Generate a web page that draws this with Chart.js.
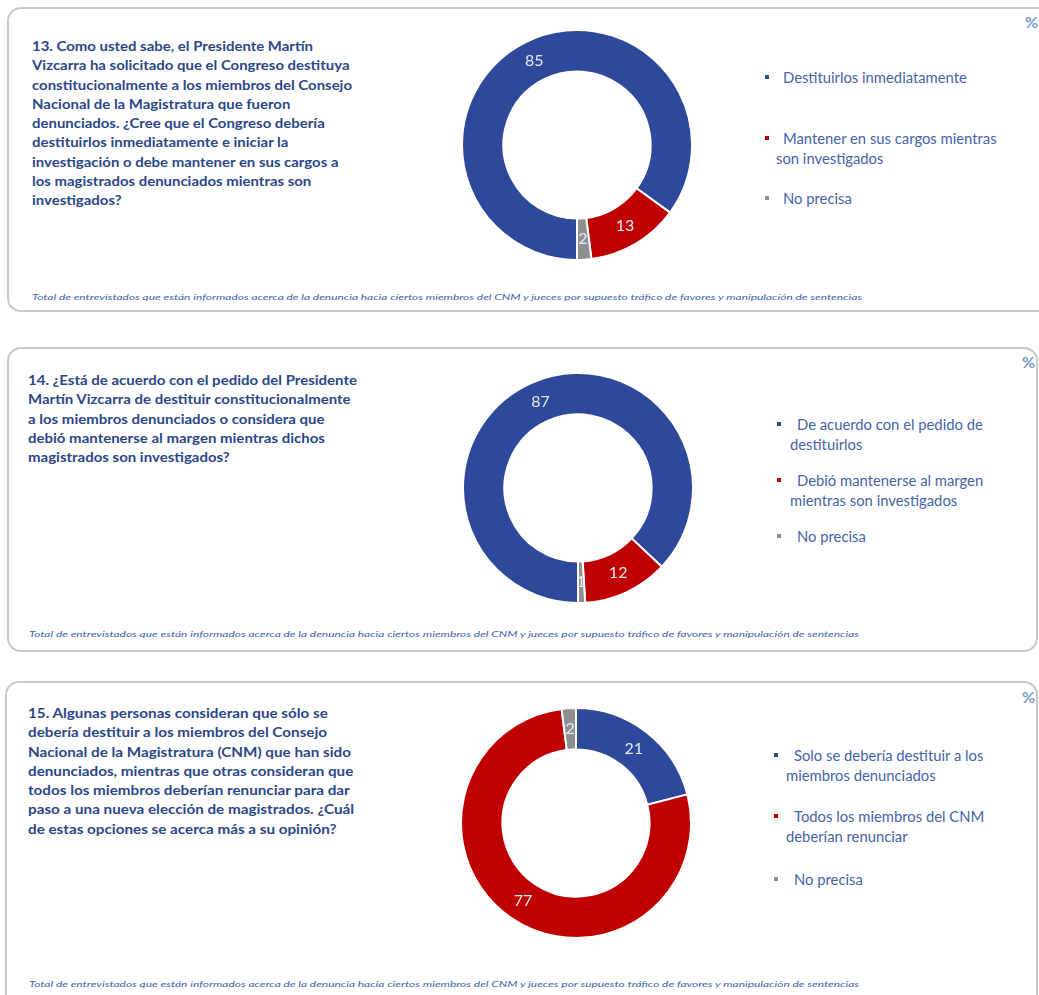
<!DOCTYPE html>
<html><head><meta charset="utf-8">
<script src="https://cdn.jsdelivr.net/npm/chart.js@4.4.0/dist/chart.umd.min.js"></script>
<style>
body{margin:0;width:1039px;height:995px;overflow:hidden;background:#fff;font-family:Lato,"Open Sans",sans-serif;position:relative}
.panel{position:absolute;border:2px solid #c9c9c9;border-radius:14px;box-sizing:border-box}
.q{position:absolute;color:#2b4789;font-weight:bold;font-size:14px;line-height:19.3px;white-space:nowrap;transform-origin:0 0}
.foot{position:absolute;color:#4262aa;font-style:italic;font-size:8.5px;white-space:nowrap;transform-origin:0 50%}
.pct{position:absolute;color:#7b98cf;font-weight:bold;font-size:16px}
.leg{position:absolute;color:#4563aa;font-size:14.8px;line-height:20px;white-space:nowrap}
.box{position:absolute;width:4px;height:4px}
canvas{position:absolute}
</style></head><body>
<script>
// ---- data ----
const seriesColors = ['#2E489C', '#C00000', '#8E8F91'];
const q13Categories = ['Destituirlos inmediatamente', 'Mantener en sus cargos mientras son investigados', 'No precisa'];
const q13Values = [85, 13, 2];
const q14Categories = ['De acuerdo con el pedido de destituirlos', 'Debió mantenerse al margen mientras son investigados', 'No precisa'];
const q14Values = [87, 12, 1];
const q15Categories = ['Solo se debería destituir a los miembros denunciados', 'Todos los miembros del CNM deberían renunciar', 'No precisa'];
const q15Values = [21, 77, 2];
const q13Question = ['13. Como usted sabe, el Presidente Martín','Vizcarra ha solicitado que el Congreso destituya','constitucionalmente a los miembros del Consejo','Nacional de la Magistratura que fueron','denunciados. ¿Cree que el Congreso debería','destituirlos inmediatamente e iniciar la','investigación o debe mantener en sus cargos a','los magistrados denunciados mientras son','investigados?'];
const q14Question = ['14. ¿Está de acuerdo con el pedido del Presidente','Martín Vizcarra de destituir constitucionalmente','a los miembros denunciados o considera que','debió mantenerse al margen mientras dichos','magistrados son investigados?'];
const q15Question = ['15. Algunas personas consideran que sólo se','debería destituir a los miembros del Consejo','Nacional de la Magistratura (CNM) que han sido','denunciados, mientras que otras consideran que','todos los miembros deberían renunciar para dar','paso a una nueva elección de magistrados. ¿Cuál','de estas opciones se acerca más a su opinión?'];
const q13LegendLines = [['Destituirlos inmediatamente'], ['Mantener en sus cargos mientras','son investigados'], ['No precisa']];
const q14LegendLines = [['De acuerdo con el pedido de','destituirlos'], ['Debió mantenerse al margen','mientras son investigados'], ['No precisa']];
const q15LegendLines = [['Solo se debería destituir a los','miembros denunciados'], ['Todos los miembros del CNM','deberían renunciar'], ['No precisa']];
const footnote = 'Total de entrevistados que están informados acerca de la denuncia hacia ciertos miembros del CNM y jueces por supuesto tráfico de favores y manipulación de sentencias';

// ---- layout ----
const panels = [
  {box:[7,7,1045,305], q:q13Question, qxy:[32,36], qw:320, foot:[32,298], pct:[1025,12], cx:577, cy:145, rot:180,
   vals:q13Values, cats:q13Categories, leg:q13LegendLines, legPos:[[767,783,776,77],[767,783,776,138],[767,783,776,198]]},
  {box:[7,347,1031,305], q:q14Question, qxy:[28,370], qw:329, foot:[29,635], pct:[1022,352], cx:578, cy:488, rot:180,
   vals:q14Values, cats:q14Categories, leg:q14LegendLines, legPos:[[779,797,790,424],[779,797,790,480],[779,797,790,536]]},
  {box:[5,681,1033,330], q:q15Question, qxy:[28,703], qw:326, foot:[29,985], pct:[1022,687], cx:576, cy:823, rot:0,
   vals:q15Values, cats:q15Categories, leg:q15LegendLines, legPos:[[776,794,786,755],[776,794,786,816],[776,794,786,879]]}
];

const labelPlugin = {
  id:'sliceLabels',
  afterDatasetsDraw(chart){
    const ctx = chart.ctx, meta = chart.getDatasetMeta(0), ds = chart.data.datasets[0];
    ctx.save();
    ctx.font = '16px Lato, "Open Sans", sans-serif';
    ctx.fillStyle = '#e4ecf9';
    ctx.textAlign = 'center'; ctx.textBaseline = 'middle';
    meta.data.forEach((arc,i)=>{ const p = arc.tooltipPosition(); ctx.fillText(String(ds.data[i]), p.x, p.y); });
    ctx.restore();
  }
};

function el(tag, cls, css, html){ const e=document.createElement(tag); if(cls) e.className=cls; Object.assign(e.style,css||{}); if(html!==undefined) e.innerHTML=html; document.body.appendChild(e); return e; }

const S = 232;
panels.forEach(p=>{
  el('div','panel',{left:p.box[0]+'px',top:p.box[1]+'px',width:p.box[2]+'px',height:p.box[3]+'px'});
  const q = el('div','q',{left:p.qxy[0]+'px',top:p.qxy[1]+'px'}, p.q.join('<br>'));
  q.style.transform = 'scaleX(' + (p.qw / q.getBoundingClientRect().width) + ')';
  const f = el('div','foot',{left:p.foot[0]+'px',top:(p.foot[1]-6)+'px'}, footnote);
  const w = f.getBoundingClientRect().width; f.style.transform = 'scaleX(' + (830/w) + ')';
  el('div','pct',{left:p.pct[0]+'px',top:p.pct[1]+'px'}, '%');
  p.leg.forEach((lines,i)=>{
    const [bx,tx,tx2,ty] = p.legPos[i];
    el('div','box',{left:(bx-2)+'px',top:(ty-2)+'px',background:seriesColors[i]});
    el('div','leg',{left:tx+'px',top:(ty-10)+'px'}, lines[0]);
    if(lines[1]) el('div','leg',{left:tx2+'px',top:(ty+10)+'px'}, lines[1]);
  });
  const c = el('canvas',null,{left:(p.cx-S/2)+'px',top:(p.cy-S/2)+'px'});
  c.width = S; c.height = S;
  new Chart(c, {
    type:'doughnut',
    data:{labels:p.cats, datasets:[{data:p.vals, backgroundColor:seriesColors, borderColor:'#ffffff', borderWidth:2}]},
    options:{responsive:false, animation:false, cutout:'64%', rotation:p.rot,
      layout:{padding:0},
      plugins:{legend:{display:false}, tooltip:{enabled:false}}},
    plugins:[labelPlugin]
  });
});
</script>
</body></html>
